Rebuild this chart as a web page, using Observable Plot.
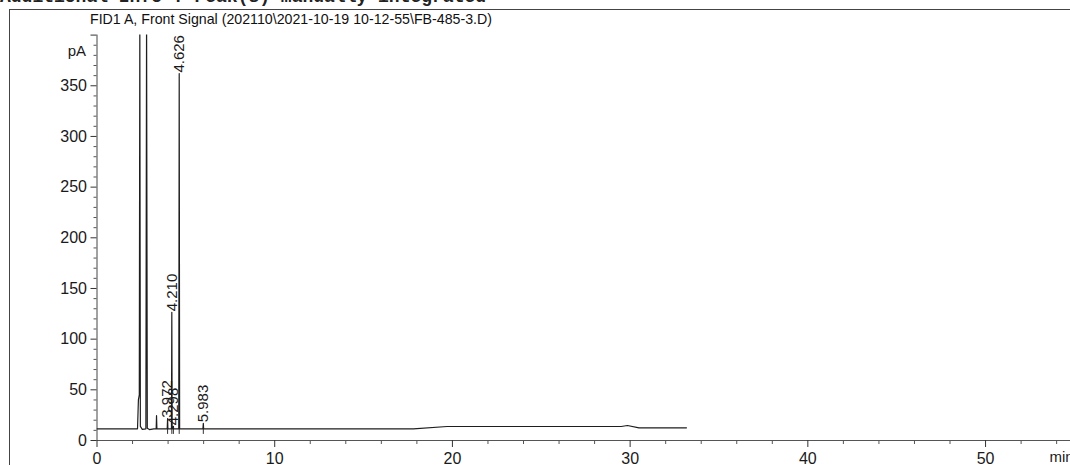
<!DOCTYPE html>
<html>
<head>
<meta charset="utf-8">
<script src="https://cdn.jsdelivr.net/npm/d3@7"></script>
<script src="https://cdn.jsdelivr.net/npm/@observablehq/plot@0.6"></script>
<style>
  html, body { margin: 0; padding: 0; background: #fff; }
  body { width: 1070px; height: 465px; overflow: hidden; position: relative;
         font-family: "Liberation Sans", Arial, sans-serif; color: #1a1a1a; }
  #frame { position: absolute; left: 9px; top: 9px; width: 1200px; height: 600px;
           border-left: 1px solid #444; border-top: 1px solid #444; }
  #header { position: absolute; left: 0px; top: -12px; font-family: "Liberation Mono", monospace;
            font-size: 18px; line-height: 18px; font-weight: bold; white-space: pre; color: #222; }
  #title { position: absolute; left: 90px; top: 11px; font-size: 14.2px; line-height: 16px;
           white-space: pre; color: #111; }
  #chart { position: absolute; left: 0; top: 0; }
</style>
</head>
<body>
<div id="header"></div>
<div id="frame"></div>
<div id="title"></div>
<div id="chart"></div>
<script>
// ---- text ----
const headerText = "Additional Info : Peak(s) manually integrated";
const titleText = "FID1 A, Front Signal (202110\\2021-10-19 10-12-55\\FB-485-3.D)";
const yUnit = "pA";
const xUnit = "min";

// ---- chromatogram trace (time in min, signal in pA) ----
const traceTime   = [0.0, 2.28, 2.33, 2.36, 2.38, 2.41, 2.44, 2.55, 2.75, 2.79, 2.83, 2.95, 3.2, 3.33, 3.35, 3.37, 3.95, 3.972, 3.99, 4.19, 4.21, 4.23, 4.28, 4.298, 4.31, 4.60, 4.626, 4.65, 5.96, 5.983, 6.0, 17.8, 19.7, 29.5, 29.85, 30.5, 33.17];
const traceSignal = [11.5, 11.5, 40, 43, 45, 420, 14, 11, 11.5, 420, 12, 10.8, 11.5, 11.5, 24.5, 11.5, 11.5, 21.5, 11.5, 11.5, 126.5, 11.5, 11.5, 14, 11.5, 11.5, 362, 11.5, 11.5, 17, 11.5, 11.5, 13.8, 13.8, 14.8, 12.5, 12.5];

// ---- labelled peaks ----
const peakRt     = [3.972, 4.210, 4.298, 4.626, 5.983];
const peakLabel  = ["3.972", "4.210", "4.298", "4.626", "5.983"];
const peakHeight = [21.5, 126.5, 14, 362, 17];
const peakBase   = [11.5, 11.5, 11.5, 11.5, 11.5];

// ---- axes ----
const xMajorTicks = [0, 10, 20, 30, 40, 50];
const xMinorTicks = [2, 4, 6, 8, 12, 14, 16, 18, 22, 24, 26, 28, 32, 34, 36, 38, 42, 44, 46, 48, 52, 54];
const yMajorTicks = [0, 50, 100, 150, 200, 250, 300, 350, 400];
const yMinorTicks = d3.range(10, 400, 10).filter(v => v % 50 !== 0);

document.getElementById("header").textContent = headerText;
document.getElementById("title").textContent = titleText;

const trace = traceTime.map((t, i) => ({t, s: traceSignal[i]}));
const peaks = peakRt.map((t, i) => ({t, label: peakLabel[i], h: peakHeight[i], b: peakBase[i]}));

const ink = "#1a1a1a";
const chart = Plot.plot({
  width: 1070,
  height: 465,
  marginLeft: 96.5,
  marginRight: 0,
  marginTop: 34.6,
  marginBottom: 25,
  x: {domain: [0, 54.78]},
  y: {domain: [0, 400]},
  style: {fontFamily: "'Liberation Sans', Arial, sans-serif", fontSize: "16px", color: ink, background: "transparent", overflow: "visible"},
  marks: [
    Plot.ruleY([0], {stroke: "#555", strokeWidth: 1}),
    Plot.ruleX([0], {stroke: "#444", strokeWidth: 1}),
    Plot.axisX({ticks: xMajorTicks, tickSize: 7, tickPadding: 5, tickFormat: d => String(d), label: null, stroke: "#333", fill: ink, fontSize: 16}),
    Plot.axisX({ticks: xMinorTicks, tickSize: 4, tickFormat: () => "", label: null, stroke: "#555"}),
    Plot.axisY({ticks: yMajorTicks, tickSize: 6, tickPadding: 4, tickFormat: d => d === 400 ? "" : String(d), label: null, stroke: "#333", fill: ink, fontSize: 16}),
    Plot.axisY({ticks: yMinorTicks, tickSize: 3, tickFormat: () => "", label: null, stroke: "#555"}),
    Plot.text([yUnit], {frameAnchor: "top-left", dx: -11, dy: 10, textAnchor: "end", fill: ink, fontSize: 15}),
    Plot.text([xUnit], {frameAnchor: "bottom-right", dx: -21, dy: 21, textAnchor: "start", fill: ink, fontSize: 15}),
    Plot.ruleX(peaks, {x: "t", y1: d => d.b - 5.5, y2: "b", stroke: "#333", strokeWidth: 1}),
    Plot.line(trace, {x: "t", y: "s", stroke: "#1e1e1e", strokeWidth: 1.2, clip: true}),
    Plot.text(peaks, {x: "t", y: "h", text: "label", rotate: -90, textAnchor: "start", lineAnchor: "middle", dy: -1, fill: ink, fontSize: 15})
  ]
});
document.getElementById("chart").appendChild(chart);
</script>
</body>
</html>
